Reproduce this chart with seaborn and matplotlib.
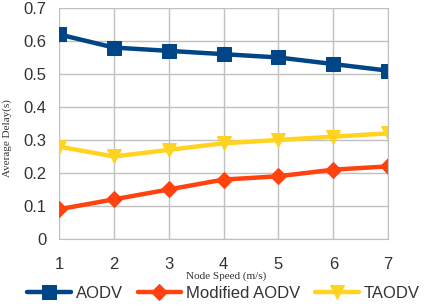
import numpy as np
import pandas as pd
import seaborn as sns
from matplotlib import pyplot as plt

speed = [1, 2, 3, 4, 5, 6, 7]
aodv = [0.62, 0.58, 0.57, 0.56, 0.55, 0.53, 0.51]
modified_aodv = [0.09, 0.12, 0.15, 0.18, 0.19, 0.21, 0.22]
taodv = [0.28, 0.25, 0.27, 0.29, 0.30, 0.31, 0.32]

series = ['AODV', 'Modified AODV', 'TAODV']
colors = ['#004586', '#ff420e', '#ffd320']
markers = ['s', 'D', 'v']
sizes = [10, 8, 10]

df = pd.DataFrame({'speed': speed * 3,
                   'delay': aodv + modified_aodv + taodv,
                   'protocol': [s for s in series for _ in speed]})

sns.set_style('white')
plt.rcParams['font.family'] = ['Liberation Sans', 'DejaVu Sans']

fig = plt.figure(figsize=(4.27, 3.06), dpi=100)
ax = fig.add_axes([0.138, 0.219, 0.771, 0.755])

for name, c, m, ms in zip(series, colors, markers, sizes):
    sub = df[df.protocol == name]
    sns.lineplot(data=sub, x='speed', y='delay', ax=ax, color=c, marker=m,
                 markersize=ms, markeredgecolor=c, linewidth=3.2, label=name)

ax.set_xlim(1, 7)
ax.set_ylim(0, 0.7)
ax.set_xticks(speed)
ax.set_yticks(np.arange(0, 0.71, 0.1))
ax.set_yticklabels(['0', '0.1', '0.2', '0.3', '0.4', '0.5', '0.6', '0.7'])
ax.grid(True, color='#c0c0c0', linewidth=1)
ax.set_axisbelow(True)
for sp in ax.spines.values():
    sp.set_color('#c0c0c0')
ax.spines['left'].set_visible(False)
ax.spines['top'].set_visible(False)
ax.tick_params(axis='both', length=6, color='#c0c0c0', labelsize=12, labelcolor='#333333', pad=3)
ax.tick_params(axis='x', pad=7)

ax.set_xlabel('')
ax.set_ylabel('')
fig.text(0.53, 0.098, 'Node Speed (m/s)', family='Liberation Serif', fontsize=8,
         color='#333333', ha='center', va='center')
fig.text(0.016, 0.55, 'Average Delay(s)', family='Liberation Serif', fontsize=8,
         color='#333333', ha='center', va='center', rotation=90)

ax.legend(loc='center', bbox_to_anchor=(0.5, -0.235), ncol=3, frameon=False,
          fontsize=12, handlelength=2.6, columnspacing=0.9, handletextpad=0.3,
          labelcolor='#333333')

fig.savefig('out.png', dpi=100)
